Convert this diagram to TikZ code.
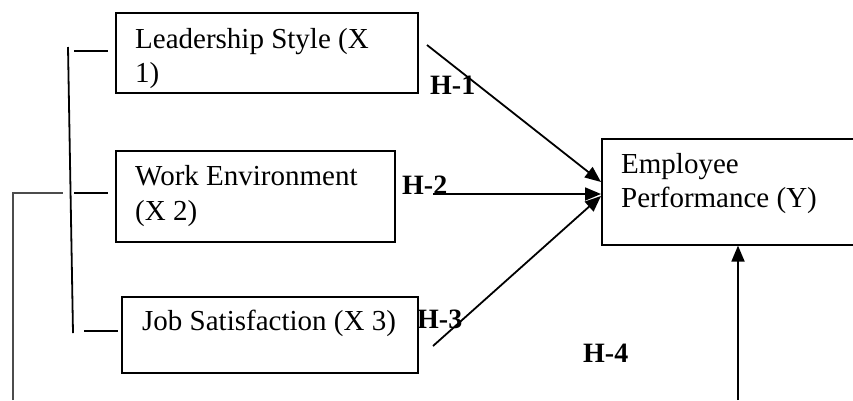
\documentclass[tikz,border=0pt]{standalone}
\usepackage{fontspec}
\setmainfont{Liberation Serif}
\usetikzlibrary{arrows.meta}
\begin{document}
\begin{tikzpicture}[x=1pt,y=-1pt,
  box/.style={draw, line width=1.6pt, inner sep=0pt, anchor=north west},
  txt/.style={anchor=base west, inner sep=0pt, font=\fontsize{29}{34}\selectfont},
  hlab/.style={anchor=base west, inner sep=0pt, font=\fontsize{28}{34}\selectfont\bfseries},
  ln/.style={line width=1.8pt},
  arr/.style={line width=1.8pt, -{Triangle[length=16pt,width=13pt]}}]
\clip (0,0) rectangle (853,400);
% boxes
\node[box, minimum width=302pt, minimum height=80pt] (b1) at (115,12) {};
\node[box, minimum width=279pt, minimum height=91pt] (b2) at (115,150) {};
\node[box, minimum width=296pt, minimum height=76pt] (b3) at (121,296) {};
\node[box, minimum width=270pt, minimum height=106pt] (by) at (601,138) {};
% texts
\node[txt] (t1a) at (135,48) {Leadership Style (X};
\node[txt] (t1b) at (135,82) {1)};
\node[txt] (t2a) at (135,185) {Work Environment};
\node[txt] (t2b) at (135,220) {(X 2)};
\node[txt] (t3) at (142,330) {Job Satisfaction (X 3)};
\node[txt] (ty1) at (621,173) {Employee};
\node[txt] (ty2) at (621,207) {Performance (Y)};
% hypothesis labels
\node[hlab] (h1) at (430,94) {H-1};
\node[hlab] (h2) at (402,194) {H-2};
\node[hlab] (h3) at (417,328) {H-3};
\node[hlab] (h4) at (583,362) {H-4};
% coordinates
\coordinate (s1) at (427,45);
\coordinate (s2) at (433,194);
\coordinate (s3) at (433,346);
\coordinate (e1) at (by.north west |- 0,182);
\coordinate (e2) at (by.north west |- 0,194);
\coordinate (e3) at (by.north west |- 0,196);
\coordinate (s4) at (738,400);
\coordinate (e4) at (by.south west -| 738,0);
\draw[arr] (s1) -- (e1);
\draw[arr] (s2) -- (e2);
\draw[arr] (s3) -- (e3);
\draw[arr] (s4) -- (e4);
% bracket
\coordinate (bt) at (68,47);
\coordinate (bb) at (73,333);
\draw[ln] (bt) -- (bb);
\coordinate (k1a) at (74,51);
\coordinate (k1b) at (108,51);
\coordinate (k2a) at (74,193);
\coordinate (k2b) at (108,193);
\coordinate (k3a) at (84,331);
\coordinate (k3b) at (118,331);
\draw[ln] (k1a) -- (k1b);
\draw[ln] (k2a) -- (k2b);
\draw[ln] (k3a) -- (k3b);
% outer line
\coordinate (o1) at (13,400);
\coordinate (o2) at (13,193);
\coordinate (o3) at (63,193);
\draw[ln, black!70] (o1) -- (o2) -- (o3);
\end{tikzpicture}
\end{document}
